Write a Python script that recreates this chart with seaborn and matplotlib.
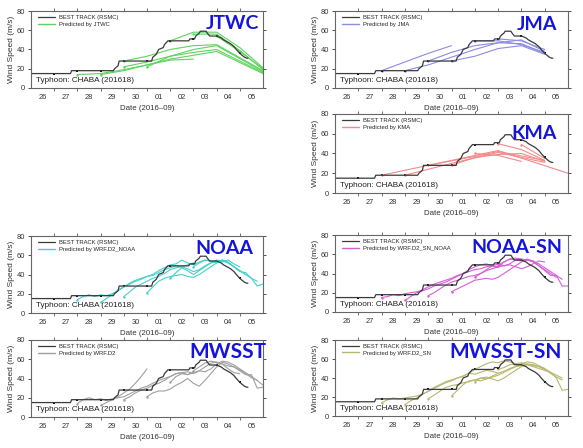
import numpy as np
import pandas as pd
import seaborn as sns
import matplotlib.pyplot as plt
from matplotlib.lines import Line2D

# day numbers counted from 2016-09-00, so 01 Oct = 31
bt_day = [26.0, 27.7, 27.75, 29.55, 29.6, 29.75, 29.8, 31.2, 31.25, 31.4, 31.5, 31.7,
          31.75, 31.9, 32.8, 32.85, 33.05, 33.1, 33.25, 33.3, 33.55, 33.6, 33.7, 34.0,
          34.1, 34.2, 34.3, 34.45, 34.6, 34.75, 34.85, 35.0, 35.1, 35.2, 35.3, 35.35]
bt_wind = [15, 15, 18, 18, 20, 23, 28, 28, 32, 35, 40, 42,
           45, 49, 49, 51, 51, 54, 57, 59, 59, 57, 54, 54,
           53, 52, 50, 48, 46, 43, 40, 36, 34, 32, 31, 31]
bt_dot_day = [27, 28, 29, 30, 31, 32, 33, 34, 35]
bt_dot_wind = [15, 18, 18, 28, 28, 49, 51, 54, 36]

day_ticks = list(range(27, 36))
label_pos = [26.5, 27.5, 28.5, 29.5, 30.5, 31.5, 32.5, 33.5, 34.5, 35.5]
day_labels = ['26', '27', '28', '29', '30', '01', '02', '03', '04', '05']

# official forecasts (broken lines)
jtwc_days = [[28, 29, 30, 31, 32, 33],
             [29, 30, 31, 32, 33, 34, 36],
             [30, 31, 32, 33, 34, 36],
             [30, 31, 32, 33, 34, 36],
             [31, 32, 33, 34, 36],
             [32, 33, 34, 35, 36],
             [33, 34, 35, 36],
             [34, 35, 36]]
jtwc_wind = [[14, 15, 19, 24, 29, 30],
             [14, 18, 24, 30, 34, 38, 15],
             [22, 27, 33, 37, 40, 16],
             [28, 33, 40, 44, 45, 18],
             [22, 33, 40, 44, 17],
             [49, 58, 58, 42, 21],
             [56, 56, 39, 19],
             [54, 38, 20]]

jma_days = [[28, 29, 30, 31],
            [29, 30, 31, 32, 33, 34, 35],
            [30, 31, 32, 33, 34, 35],
            [31, 32, 33, 34, 35],
            [32, 33, 34, 35],
            [33, 34, 35]]
jma_wind = [[18, 27, 36, 44],
            [18, 24, 32, 40, 47, 50, 38],
            [28, 37, 44, 47, 46, 36],
            [28, 33, 41, 44, 35],
            [49, 49, 45, 37],
            [51, 49, 40]]

kma_days = [[28, 33, 36],
            [29, 31, 33, 35],
            [30, 32, 33, 35],
            [31, 32, 33, 34, 35],
            [32, 33, 34],
            [33, 34, 35],
            [34, 35]]
kma_wind = [[18, 43, 20],
            [18, 30, 41, 31],
            [28, 37, 42, 33],
            [28, 36, 39, 40, 32],
            [40, 38, 32],
            [50, 44, 33],
            [49, 35]]

# WRF runs, 6-hourly output from each start day
wrf_start = [28, 29, 30, 31, 32, 33]
noaa_wind = [[14, 17, 19, 17, 19, 18, 20, 23, 27, 31, 34, 36, 38, 39, 42, 45, 47, 49, 48, 50, 52],
             [11, 15, 19, 24, 27, 30, 33, 35, 38, 40, 44, 47, 50, 51, 55, 52, 50, 53, 55, 54, 52],
             [17, 22, 27, 30, 33, 36, 38, 41, 45, 47, 48, 46, 43, 45, 49, 52, 54, 53, 55, 51, 48],
             [21, 27, 33, 36, 38, 39, 40, 38, 37, 40, 44, 48, 52, 55, 53, 48, 43, 42, 36, 28, 30],
             [36, 42, 47, 44, 40, 44, 48, 52, 55, 54, 52, 48, 44, 40],
             [48, 52, 55, 54, 54, 55, 52, 48, 44, 40, 36, 33]]
noaa_sn_wind = [[15, 16, 18, 17, 19, 20, 21, 22, 24, 27, 29, 31, 34, 37, 40, 42, 44, 45, 47, 48, 47],
                [12, 16, 20, 23, 26, 29, 31, 33, 35, 38, 40, 44, 47, 49, 50, 48, 46, 52, 55, 56, 55],
                [17, 20, 24, 28, 31, 33, 35, 37, 38, 40, 43, 45, 47, 48, 49, 47, 45, 47, 50, 53, 52],
                [21, 24, 27, 30, 33, 34, 35, 34, 36, 40, 44, 48, 52, 54, 53, 48, 43, 38, 38, 27, 27],
                [36, 40, 44, 48, 50, 48, 50, 54, 55, 54, 52, 48, 44, 40, 36],
                [49, 52, 55, 54, 53, 55, 53, 50, 46, 42, 38, 34]]
mwsst_wind = [[14, 18, 20, 18, 19, 17, 19, 20, 21, 24, 27, 30, 32, 35, 38, 40, 42, 45, 46, 44, 47],
              [12, 15, 18, 21, 25, 29, 35, 42, 50],
              [18, 21, 25, 28, 30, 33, 35, 38, 42, 45, 46, 47, 45, 48, 52, 56, 57, 55, 50, 46, 45],
              [21, 25, 27, 27, 29, 33, 36, 40, 35, 32, 38, 45, 52, 57, 55, 52, 48, 44, 44, 30, 31],
              [36, 42, 45, 44, 46, 48, 47, 50, 55, 58, 57, 54, 50, 46, 42, 38, 33],
              [48, 52, 56, 58, 57, 55, 53, 52, 49, 45, 41, 38]]
mwsst_sn_wind = [[14, 17, 19, 18, 19, 20, 21, 23, 26, 29, 32, 35, 37, 40, 42, 45, 44, 46, 48, 47, 45],
                 [12, 16, 19, 23, 26, 30, 33, 36, 38, 40, 42, 45, 49, 52, 55, 57, 56, 58, 57, 55, 53],
                 [18, 22, 26, 30, 32, 33, 35, 36, 38, 40, 41, 39, 37, 40, 44, 48, 52, 54, 53, 52, 50],
                 [21, 27, 33, 37, 38, 37, 39, 41, 43, 46, 49, 52, 55, 57, 56, 53, 50, 46, 40, 27, 28],
                 [36, 40, 39, 42, 45, 47, 50, 52, 53, 55, 54, 52, 49, 45, 41, 38],
                 [49, 51, 54, 55, 56, 54, 52, 50, 48, 46, 43, 40]]


def runs_frame(days_list, wind_list):
    rows = []
    for k, (d, w) in enumerate(zip(days_list, wind_list)):
        for x, y in zip(d, w):
            rows.append((k, x, y))
    return pd.DataFrame(rows, columns=['run', 'day', 'wind'])


def wrf_frame(wind_list):
    days = [s + 0.25 * np.arange(len(w)) for s, w in zip(wrf_start, wind_list)]
    return runs_frame(days, wind_list)


sns.set_style('ticks')
plt.rcParams['font.family'] = ['Liberation Sans', 'DejaVu Sans']

fig = plt.figure(figsize=(5.83, 4.48), dpi=100)


def panel(rect, df, color, name, legend_label, title_size=14, title_xy=(0.985, 0.95)):
    ax = fig.add_axes(rect)
    sns.lineplot(data=df, x='day', y='wind', units='run', estimator=None, sort=False,
                 color=color, lw=0.8, ax=ax, legend=False)
    starts = df.groupby('run').first()
    sns.scatterplot(data=starts, x='day', y='wind', color=color, s=3, marker='o',
                    linewidth=0, ax=ax, legend=False)
    sns.lineplot(x=bt_day, y=bt_wind, sort=False, color='#3a3a3a', lw=0.9, ax=ax)
    sns.scatterplot(x=bt_dot_day, y=bt_dot_wind, color='black', s=4, marker='s',
                    linewidth=0, ax=ax, legend=False)
    ax.set_xlim(26, 36)
    ax.set_ylim(0, 80)
    ax.set_yticks([0, 20, 40, 60, 80])
    ax.set_xticks(label_pos)
    ax.set_xticklabels(day_labels)
    ax.set_xticks(day_ticks, minor=True)
    ax.tick_params(axis='x', which='major', length=0, pad=4.5, labelsize=5.4, colors='#333333')
    ax.tick_params(axis='x', which='minor', length=2.2, width=0.6, direction='out',
                   top=True, bottom=True, color='#555555')
    ax.tick_params(axis='y', which='major', length=2.2, width=0.6, direction='out',
                   left=True, right=True, pad=2, labelsize=5.4, colors='#333333')
    for sp in ax.spines.values():
        sp.set_visible(True)
        sp.set_color('#666666')
        sp.set_linewidth(0.8)
    ax.set_xlabel('Date (2016\u201309)', fontsize=5.7, labelpad=2.5, color='#333333')
    ax.set_ylabel('Wind Speed (m/s)', fontsize=6.0, labelpad=1.5, color='#333333')
    ax.text(0.02, 0.05, 'Typhoon: CHABA (201618)', transform=ax.transAxes,
            fontsize=5.9, color='#222222', ha='left', va='bottom')
    ax.text(title_xy[0], title_xy[1], name, transform=ax.transAxes, ha='right', va='top',
            fontsize=title_size, fontweight='bold', color='#1414dc', family='Lato')
    handles = [Line2D([], [], color='#3a3a3a', lw=0.9), Line2D([], [], color=color, lw=1.0)]
    ax.legend(handles, ['BEST TRACK (RSMC)', legend_label], loc='upper left',
              bbox_to_anchor=(0.03, 0.945), borderaxespad=0, borderpad=0, frameon=False,
              fontsize=4.2, handlelength=2.9, handletextpad=0.7, labelspacing=0.2)
    return ax


lx, rx = 31 / 583, 335 / 583
lw_, rw_ = 232 / 583, 233 / 583


def rect(x, w, top, bottom):
    return [x, 1 - bottom / 448, w, (bottom - top) / 448]


panel(rect(lx, lw_, 11, 88), runs_frame(jtwc_days, jtwc_wind), '#5fd35f', 'JTWC',
      'Predicted by JTWC')
panel(rect(rx, rw_, 11, 88), runs_frame(jma_days, jma_wind), '#8c8ce2', 'JMA',
      'Predicted by JMA', title_xy=(0.953, 0.93))
panel(rect(rx, rw_, 114, 193), runs_frame(kma_days, kma_wind), '#f28a8a', 'KMA',
      'Predicted by KMA', title_xy=(0.953, 0.86))
panel(rect(lx, lw_, 236, 313), wrf_frame(noaa_wind), '#45d0d0', 'NOAA',
      'Predicted by WRF.D2_NOAA', title_xy=(0.96, 0.95))
panel(rect(rx, rw_, 235, 312), wrf_frame(noaa_sn_wind), '#d65fd6', 'NOAA-SN',
      'Predicted by WRF.D2_SN_NOAA', title_xy=(0.975, 0.95))
panel(rect(lx, lw_, 340, 417), wrf_frame(mwsst_wind), '#a0a0a0', 'MWSST',
      'Predicted by WRF.D2', title_size=15, title_xy=(1.015, 0.97))
panel(rect(rx, rw_, 340, 416), wrf_frame(mwsst_sn_wind), '#b8b870', 'MWSST-SN',
      'Predicted by WRF.D2_SN', title_size=15, title_xy=(0.975, 0.97))

fig.savefig('out.png', dpi=100)
